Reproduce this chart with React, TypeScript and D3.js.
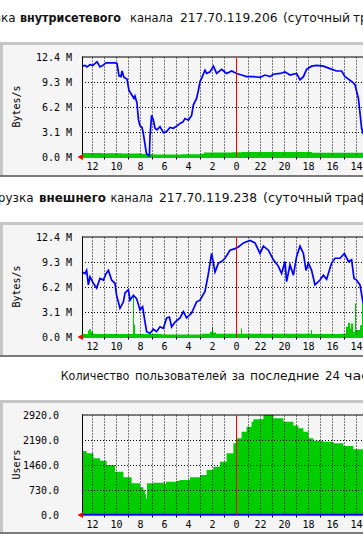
import React from "react";
import * as d3 from "d3";

// ---- data (time = minutes before the newest sample, 5 min per pixel) ----
const hourLabels = ["12", "10", "8", "6", "4", "2", "0", "22", "20", "18", "16", "14"];
const bytesTickValues = [0, 3.1, 6.2, 9.3, 12.4];
const bytesTickLabels = ["0.0 M", "3.1 M", "6.2 M", "9.3 M", "12.4 M"];
const usersTickValues = [0, 730, 1460, 2190, 2920];
const usersTickLabels = ["0.0", "730.0", "1460.0", "2190.0", "2920.0"];

// internal channel: outgoing (blue line), incoming (green area), MBytes/s
const innerOut: [number, number][] = [
  [0, 11.2], [15, 11.3], [25, 11.1], [40, 11.4], [55, 11.3], [75, 11.75], [90, 11.1], [105, 11.3], [120, 11.6],
  [140, 11.6], [165, 11.6], [175, 11.55], [185, 10.0], [195, 9.9], [200, 10.6], [210, 9.8], [225, 9.6],
  [235, 8.2], [250, 7.6], [260, 7.2], [265, 7.5], [275, 6.6], [282, 4.6], [290, 3.8], [300, 3.6],
  [307, 2.8], [315, 1.5], [322, 0.4], [332, 0.1], [337, 0.1], [340, 2.5], [348, 5.1], [357, 4.5],
  [365, 3.5], [375, 3.3], [390, 3.7], [407, 2.95], [423, 3.1], [440, 3.6], [457, 3.5], [475, 3.8],
  [490, 4.1], [505, 4.3], [515, 4.7], [532, 4.5], [548, 5.1], [557, 6.4], [573, 7.2], [582, 8.2],
  [590, 9.3], [598, 9.7], [615, 10.7], [623, 10.3], [640, 10.5], [657, 11.2], [673, 10.3], [698, 10.8],
  [723, 10.3], [748, 10.6], [773, 10.3], [798, 10.1], [823, 9.9], [857, 9.9], [890, 9.8], [915, 10.1],
  [940, 9.9], [957, 10.2], [990, 10.3], [1015, 10.5], [1040, 10.1], [1073, 10.3], [1090, 9.5],
  [1107, 9.9], [1123, 10.8], [1148, 11.2], [1173, 11.3], [1207, 11.2], [1240, 10.9], [1273, 10.6],
  [1298, 10.6], [1315, 9.9], [1332, 9.6], [1348, 9.3], [1365, 8.9], [1382, 7.2], [1390, 5.4],
  [1398, 3.5], [1405, 2.9], [1415, 2.5],
];
const innerIn: [number, number][] = [
  [0, 0.42], [100, 0.4], [200, 0.38], [300, 0.3], [350, 0.25], [500, 0.28], [590, 0.35], [610, 0.5],
  [750, 0.52], [800, 0.55], [1100, 0.55], [1150, 0.45], [1415, 0.42],
];

// external channel
const outerOut: [number, number][] = [
  [0, 8.0], [15, 7.8], [23, 8.2], [32, 6.4], [40, 7.4], [57, 6.6], [73, 6.0], [90, 7.2], [107, 7.0],
  [120, 7.8], [132, 8.2], [148, 7.0], [165, 6.6], [173, 5.1], [190, 3.5], [207, 4.3], [215, 5.4],
  [232, 5.8], [240, 4.5], [257, 5.1], [273, 4.7], [290, 3.3], [303, 3.7], [315, 1.8], [323, 0.6],
  [340, 0.4], [357, 0.9], [373, 0.6], [390, 1.2], [407, 1.0], [423, 2.3], [437, 2.4], [448, 1.2],
  [465, 1.8], [490, 2.3], [507, 3.1], [523, 2.3], [548, 2.9], [573, 4.3], [590, 4.5], [615, 5.6],
  [632, 7.8], [648, 10.3], [657, 9.1], [665, 8.0], [682, 9.1], [698, 9.3], [715, 9.7], [740, 10.7],
  [765, 10.9], [782, 11.1], [807, 11.6], [840, 11.9], [865, 11.6], [890, 10.3], [907, 11.2],
  [932, 10.7], [957, 9.5], [982, 8.7], [998, 7.8], [1015, 9.3], [1023, 6.8], [1040, 8.9], [1057, 7.6],
  [1073, 9.9], [1090, 11.2], [1107, 10.3], [1120, 8.2], [1132, 9.1], [1148, 8.2], [1165, 6.4],
  [1190, 7.0], [1207, 7.6], [1223, 7.1], [1248, 9.1], [1265, 9.7], [1290, 9.7], [1312, 10.3],
  [1332, 9.3], [1348, 9.5], [1360, 7.2], [1373, 7.0], [1390, 6.4], [1403, 4.5], [1415, 3.5],
];
const outerIn: [number, number][] = [
  [0, 0.3], [30, 0.7], [35, 0.9], [45, 0.6], [55, 0.3], [250, 0.3], [255, 5.1], [260, 1.5], [265, 0.3],
  [400, 0.25], [600, 0.35], [640, 0.6], [650, 1.2], [655, 0.5], [670, 0.35], [795, 1.0], [800, 0.35],
  [1145, 0.8], [1150, 0.3], [1300, 0.35], [1320, 1.2], [1330, 1.7], [1340, 1.0], [1345, 1.6],
  [1355, 0.6], [1365, 4.1], [1370, 0.8], [1390, 1.4], [1400, 4.3], [1405, 1.0], [1415, 0.8],
];

// users online
const usersCount: [number, number][] = [
  [0, 1854], [23, 1786], [57, 1640], [90, 1572], [123, 1445], [165, 1250], [207, 1086], [248, 911],
  [290, 794], [307, 715], [315, 600], [320, 473], [325, 911], [357, 929], [398, 929], [410, 958],
  [415, 880], [420, 958], [440, 958], [473, 987], [490, 1007], [540, 1086], [590, 1153], [623, 1299],
  [657, 1396], [690, 1542], [723, 1787], [757, 2079], [773, 2225], [798, 2418], [823, 2564],
  [848, 2710], [857, 2780], [907, 2905], [957, 2809], [1007, 2710], [1057, 2600], [1082, 2516],
  [1107, 2418], [1132, 2225], [1157, 2155], [1207, 2126], [1257, 2079], [1307, 2000], [1357, 1904],
  [1405, 1787], [1415, 1760],
];
const usersOut: [number, number][] = [[0, 0], [2000, 0]];

// ---- layout ----
const W = 363;
const H = 534;
const AXIS_X = 82;
const FIRST_GRID_MIN = 50;
const MONO = "'DejaVu Sans Mono', monospace";
const SANS = "'DejaVu Sans', Verdana, sans-serif";

type PanelProps = {
  top: number;
  plotTop: number;
  bottom: number;
  tickValues: number[];
  tickLabels: string[];
  labelRight: number;
  axisTitle: string;
  line: [number, number][];
  area: [number, number][];
};

function Panel(p: PanelProps) {
  const plotH = 100;
  const plotBottom = p.plotTop + plotH;
  const x = d3.scaleLinear().domain([0, 2000]).range([AXIS_X, AXIS_X + 400]);
  const y = d3.scaleLinear().domain([0, p.tickValues[p.tickValues.length - 1]]).range([plotBottom, p.plotTop]);

  const area = d3
    .area<[number, number]>()
    .curve(d3.curveStepAfter)
    .x((d) => x(d[0]))
    .y0(plotBottom + 0.5)
    .y1((d) => y(d[1]));
  const line = d3
    .line<[number, number]>()
    .x((d) => x(d[0]))
    .y((d) => y(d[1]));

  const gridMins = d3.range(0, 24).map((k) => FIRST_GRID_MIN + 60 * k);
  const zeroIdx = hourLabels.indexOf("0");

  return (
    <g>
      <rect x={0} y={p.top} width={W + 10} height={p.bottom - p.top} fill="#f5f5f5" />
      <rect x={0} y={p.top} width={W + 10} height={3} fill="#c6c6c6" />
      <rect x={0} y={p.top} width={3} height={p.bottom - p.top} fill="#c6c6c6" />
      <rect x={0} y={p.bottom - 2} width={W + 10} height={2} fill="#7a7a7a" />

      <line x1={AXIS_X} x2={W + 10} y1={plotBottom + 0.5} y2={plotBottom + 0.5} stroke="#000" />

      <path d={area(p.area) || ""} fill="#00cc00" />

      {p.tickValues.slice(1, -1).map((v, i) => (
        <line key={"h" + i} x1={AXIS_X} x2={W + 10} y1={Math.round(y(v)) + 0.5} y2={Math.round(y(v)) + 0.5}
          stroke="#000" strokeDasharray="1 2" />
      ))}
      <line x1={AXIS_X} x2={W + 10} y1={p.plotTop + 0.5} y2={p.plotTop + 0.5} stroke="#000" />
      {gridMins.map((m, k) =>
        k === zeroIdx * 2 ? null : (
          <line key={"v" + k} x1={x(m) + 0.5} x2={x(m) + 0.5} y1={p.plotTop + 1} y2={plotBottom}
            stroke="#000" strokeDasharray="1 2" />
        )
      )}
      {gridMins.map((m, k) =>
        k % 2 === 1 ? (
          <line key={"t" + k} x1={x(m) + 0.5} x2={x(m) + 0.5} y1={plotBottom} y2={plotBottom + 3} stroke="#000" />
        ) : null
      )}

      <path d={line(p.line) || ""} fill="none" stroke="#0000ff" strokeWidth={1.7} />

      <line x1={AXIS_X + 0.5} x2={AXIS_X + 0.5} y1={p.plotTop} y2={plotBottom + 1} stroke="#000" />
      <line x1={x(gridMins[zeroIdx * 2]) + 0.5} x2={x(gridMins[zeroIdx * 2]) + 0.5} y1={p.plotTop + 1}
        y2={plotBottom + 1} stroke="#ff0000" />
      <path d={`M${AXIS_X - 4.5},${plotBottom + 0.5} L${AXIS_X + 1},${plotBottom - 2.5} L${AXIS_X + 1},${plotBottom + 3.5} Z`}
        fill="#ff0000" />

      {p.tickValues.map((v, i) => (
        <text key={"yl" + i} x={p.labelRight} y={Math.round(y(v)) + 4} textAnchor="end"
          fontFamily={MONO} fontSize={10} fill="#000">
          {p.tickLabels[i]}
        </text>
      ))}
      <text transform={`translate(${19.5},${p.plotTop + plotH / 2}) rotate(-90)`} textAnchor="middle"
        fontFamily={MONO} fontSize={10} fill="#000">
        {p.axisTitle}
      </text>

      {hourLabels.map((lab, i) => (
        <text key={"xl" + i} x={x(gridMins[i * 2]) + 0.5} y={plotBottom + 13.5} textAnchor="middle"
          fontFamily={MONO} fontSize={10} fill="#000">
          {lab}
        </text>
      ))}
    </g>
  );
}

type Word = { t: string; x: number; w?: number; b?: boolean; end?: boolean };
const title1: Word[] = [
  { t: "Загрузка", x: 15.5, end: true },
  { t: "внутрисетевого", x: 20, w: 101, b: true },
  { t: "канала", x: 130, w: 43 },
  { t: "217.70.119.206", x: 180, w: 97.5 },
  { t: "(суточный", x: 283, w: 67 },
  { t: "трафик)", x: 353, w: 52 },
];
const title2: Word[] = [
  { t: "Загрузка", x: 33.5, end: true },
  { t: "внешнего", x: 39, w: 67, b: true },
  { t: "канала", x: 110.5, w: 42.5 },
  { t: "217.70.119.238", x: 159, w: 98 },
  { t: "(суточный", x: 263, w: 69 },
  { t: "трафик)", x: 335, w: 52 },
];
const title3: Word[] = [
  { t: "Количество", x: 60.7, w: 68.6 },
  { t: "пользователей", x: 135, w: 91.7 },
  { t: "за", x: 231.7, w: 13.3 },
  { t: "последние", x: 250, w: 69.3 },
  { t: "24", x: 325, w: 15 },
  { t: "часа", x: 344, w: 34 },
];

function Title({ words, y }: { words: Word[]; y: number }) {
  return (
    <g>
      {words.map((w, i) => (
        <text key={i} x={w.x} y={y} textAnchor={w.end ? "end" : "start"} fontFamily={SANS} fontSize={12}
          fontWeight={w.b ? "bold" : "normal"} fill="#111"
          {...(w.w ? { textLength: w.w, lengthAdjust: "spacingAndGlyphs" } : {})}>
          {w.t}
        </text>
      ))}
    </g>
  );
}

export default function App() {
  return (
    <svg width={W} height={H} viewBox={`0 0 ${W} ${H}`}
      style={{ position: "absolute", left: 0, top: 0, background: "#fff" }}>
      <rect x={0} y={0} width={W} height={H} fill="#fff" />
      <Title words={title1} y={21.5} />
      <Panel top={42} plotTop={56.5} bottom={177} tickValues={bytesTickValues} tickLabels={bytesTickLabels}
        labelRight={72} axisTitle="Bytes/s" line={innerOut} area={innerIn} />
      <Title words={title2} y={202} />
      <Panel top={222} plotTop={236.5} bottom={357} tickValues={bytesTickValues} tickLabels={bytesTickLabels}
        labelRight={72} axisTitle="Bytes/s" line={outerOut} area={outerIn} />
      <Title words={title3} y={380} />
      <Panel top={400} plotTop={414.5} bottom={534} tickValues={usersTickValues} tickLabels={usersTickLabels}
        labelRight={59} axisTitle="Users" line={usersOut} area={usersCount} />
    </svg>
  );
}
